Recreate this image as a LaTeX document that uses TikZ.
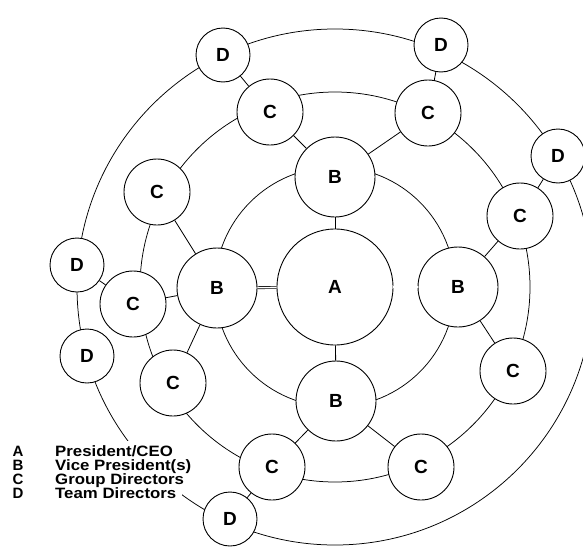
\documentclass[tikz,border=0pt]{standalone}
\usepackage{fontspec}
\setmainfont{Liberation Sans}
\begin{document}
\begin{tikzpicture}[x=1pt,y=-1pt,
  ring/.style={draw=black,line width=0.75pt},
  link/.style={draw=black,line width=0.8pt},
  dlink/.style={draw=black,line width=0.6pt,double=white,double distance=1.6pt},
  unit/.style={circle,draw=black,line width=0.9pt,fill=white,inner sep=0pt,
    font=\bfseries\fontsize{19}{19}\selectfont},
  nA/.style={unit,minimum size=116pt},
  nB/.style={unit,minimum size=80pt},
  nC/.style={unit,minimum size=66pt},
  nD/.style={unit,minimum size=54pt},
  legtext/.style={anchor=base west,inner sep=0pt,xscale=1.12,
    font=\bfseries\fontsize{15}{15}\selectfont},
  legkey/.style={anchor=base,inner sep=0pt,
    font=\bfseries\fontsize{15}{15}\selectfont}]
\useasboundingbox (0,0) rectangle (583,546);
\clip (0,0) rectangle (583,546);
\coordinate (O) at (335,287);
% rings
\draw[ring] (O) circle[radius=120pt];
\draw[ring] (O) circle[radius=195pt];
\draw[ring] (O) circle[radius=258pt];
% white ground under the legend, hiding the outer ring there
\fill[white] (8,441) rectangle (182,501);
% nodes
\node[nA] (A) at (335,287) {A};
\node[nB] (Bt) at (335,177) {B};
\node[nB] (Bl) at (217,288) {B};
\node[nB] (Br) at (458,287) {B};
\node[nB] (Bb) at (336,401) {B};
\node[nC] (C1) at (270,112) {C};
\node[nC] (C2) at (428,113) {C};
\node[nC] (C3) at (520,216) {C};
\node[nC] (C4) at (513,371) {C};
\node[nC] (C5) at (421,467) {C};
\node[nC] (C6) at (272,467) {C};
\node[nC] (C7) at (173,383) {C};
\node[nC] (C8) at (133,304) {C};
\node[nC] (C9) at (157,192) {C};
\node[nD] (D1) at (223,55) {D};
\node[nD] (D2) at (441,45) {D};
\node[nD] (D3) at (558,156) {D};
\node[nD] (D4) at (230,519) {D};
\node[nD] (D5) at (87,356) {D};
\node[nD] (D6) at (77,265) {D};
% connectors A-B
\draw[link] (A) -- (Bt);
\draw[link] (A) -- (Bb);
\draw[dlink] (A) -- (Bl);
\draw[dlink] (A) -- (Br);
% B-C
\draw[link] (Bt) -- (C1);
\draw[link] (Bt) -- (C2);
\draw[link] (Bl) -- (C9);
\draw[link] (Bl) -- (C8);
\draw[link] (Bl) -- (C7);
\draw[link] (Br) -- (C3);
\draw[link] (Br) -- (C4);
\draw[link] (Bb) -- (C6);
\draw[link] (Bb) -- (C5);
% C-D
\draw[link] (C1) -- (D1);
\draw[link] (C2) -- (D2);
\draw[link] (C3) -- (D3);
\draw[link] (C8) -- (D6);
\draw[link] (C6) -- (D4);
% legend
\node[legkey] (kA) at (18,456) {A};
\node[legkey] (kB) at (18,470) {B};
\node[legkey] (kC) at (18,484) {C};
\node[legkey] (kD) at (18,498) {D};
\node[legtext] (tA) at (55,456) {President/CEO};
\node[legtext] (tB) at (55,470) {Vice President(s)};
\node[legtext] (tC) at (55,484) {Group Directors};
\node[legtext] (tD) at (55,498) {Team Directors};
\end{tikzpicture}
\end{document}
